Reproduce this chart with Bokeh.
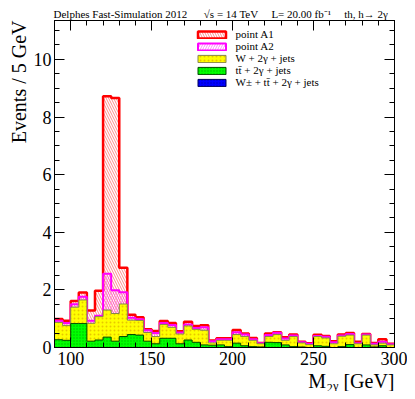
import numpy as np
from bokeh.plotting import figure
from bokeh.models import Range1d, FixedTicker, LinearAxis, Legend, LegendItem, Title
from bokeh.embed import file_html
from bokeh.resources import INLINE

# ---- data (events per 5 GeV bin, contributions of each sample) ----
bin_edges = list(range(90, 305, 5))  # 90 ... 300

w_tt_2g = [0.0] * 42
tt_2g = [0.27, 0.25, 0.83, 0.83, 0.22, 0.26, 0.36, 0.22, 0.38, 0.45, 0.43, 0.22,
         0.13, 0.32, 0.32, 0.13, 0.26, 0.18, 0.09, 0.08, 0.09, 0.03, 0.15, 0.06,
         0.03, 0.02, 0.18, 0.17, 0.09, 0.03, 0.02, 0.00, 0.06, 0.04, 0.00, 0.03,
         0.10, 0.00, 0.09, 0.02, 0.06, 0.00]
w_2g = [0.60, 0.51, 0.57, 0.82, 0.62, 0.81, 0.94, 0.96, 1.13, 0.50, 0.51, 0.30,
        0.25, 0.48, 0.38, 0.34, 0.49, 0.45, 0.51, 0.08, 0.16, 0.22, 0.30, 0.32,
        0.22, 0.11, 0.20, 0.28, 0.16, 0.35, 0.14, 0.10, 0.32, 0.29, 0.13, 0.36,
        0.33, 0.13, 0.34, 0.07, 0.09, 0.09]
point_a2 = [0.06, 0.09, 0.10, 0.11, 0.09, 0.03, 1.26, 0.81, 0.41, 0.08, 0.04, 0.08,
            0.12, 0.05, 0.08, 0.05, 0.05, 0.05, 0.10, 0.06, 0.04, 0.04, 0.08, 0.07,
            0.04, 0.02, 0.05, 0.06, 0.06, 0.04, 0.02, 0.03, 0.02, 0.04, 0.05, 0.03,
            0.04, 0.02, 0.02, 0.04, 0.05, 0.02]
point_a1 = [0.06, 0.08, 0.11, 0.15, 0.35, 0.87, 6.16, 6.67, 0.85, 0.11, 0.07, 0.03,
            0.07, 0.07, 0.07, 0.04, 0.09, 0.07, 0.07, 0.02, 0.03, 0.03, 0.08, 0.04,
            0.04, 0.01, 0.06, 0.02, 0.05, 0.03, 0.02, 0.02, 0.04, 0.03, 0.04, 0.03,
            0.03, 0.05, 0.02, 0.03, 0.09, 0.02]

labels = ["point A1", "point A2", "W + 2\u03b3 + jets", "tt\u0304 + 2\u03b3 + jets",
          "W\u00b1 + tt\u0304 + 2\u03b3 + jets"]
x_ticks = [100, 150, 200, 250, 300]
x_minor = list(range(90, 301, 10))
y_ticks = [0, 2, 4, 6, 8, 10]
y_minor = [0.5 * k for k in range(0, 23)]
header = ("Delphes Fast-Simulation 2012\u2003\u2002\u221as = 14 TeV\u2003\u2009"
          "L= 20.00 fb\u207b\u00b9\u2003\u2009th, h\u2192 2\u03b3")
y_title = "Events / 5 GeV"
x_title = "M\u2082\u1d67 [GeV]"

FONT = "Liberation Serif"

# cumulative stacks
s_blue = np.array(w_tt_2g)
s_green = s_blue + np.array(tt_2g)
s_yellow = s_green + np.array(w_2g)
s_mag = s_yellow + np.array(point_a2)
s_red = s_mag + np.array(point_a1)


def step_poly(edges, tops):
    xs, ys = [edges[0]], [0.0]
    for i, t in enumerate(tops):
        xs += [edges[i], edges[i + 1]]
        ys += [float(t), float(t)]
    xs.append(edges[-1]); ys.append(0.0)
    return xs, ys


p = figure(width=407, height=391, output_backend="svg", toolbar_location=None,
           x_range=Range1d(90, 300), y_range=Range1d(0, 11.35),
           min_border_left=54, min_border_right=13, min_border_top=20,
           min_border_bottom=44)
p.xgrid.visible = False
p.ygrid.visible = False
p.outline_line_color = "black"
p.outline_line_width = 1
p.background_fill_color = "white"

styles = [
    dict(fill_alpha=0.0, hatch_pattern="\\", hatch_color="#ff0000", hatch_alpha=0.45,
         hatch_scale=5, hatch_weight=1, line_color="#ff0000", line_width=2.5),
    dict(fill_alpha=0.0, hatch_pattern="/", hatch_color="#ff00ff", hatch_alpha=0.45,
         hatch_scale=5, hatch_weight=1, line_color="#ff00ff", line_width=2),
    dict(fill_color="#ffff00", fill_alpha=1.0, hatch_pattern=".", hatch_color="#d09000",
         hatch_alpha=0.5, hatch_scale=4, hatch_weight=0.6, line_color="#85854a", line_width=1),
    dict(fill_color="#00ff00", fill_alpha=1.0, hatch_pattern=".", hatch_color="#00a000",
         hatch_alpha=0.7, hatch_scale=3, hatch_weight=0.6, line_color="#004a00", line_width=1),
    dict(fill_color="#0000ff", fill_alpha=1.0, hatch_pattern=".", hatch_color="#000090",
         hatch_alpha=0.7, hatch_scale=3, hatch_weight=0.6, line_color="#000060", line_width=1),
]
stacks = [s_red, s_mag, s_yellow, s_green, s_blue]
renderers = []
for st, sty in zip(stacks, styles):
    xs, ys = step_poly(bin_edges, st)
    renderers.append(p.patch(xs, ys, **sty))

# axes styling
for ax in (p.xaxis[0], p.yaxis[0]):
    ax.major_tick_in = 10
    ax.major_tick_out = 0
    ax.minor_tick_in = 5
    ax.minor_tick_out = 0
    ax.axis_line_color = "black"
    ax.major_tick_line_color = "black"
    ax.minor_tick_line_color = "black"
    ax.major_label_text_font = FONT
    ax.major_label_text_font_size = "18px"
    ax.major_label_text_color = "black"

p.xaxis[0].ticker = FixedTicker(ticks=x_ticks, minor_ticks=x_minor)
p.yaxis[0].ticker = FixedTicker(ticks=y_ticks, minor_ticks=y_minor)
p.xaxis[0].major_label_standoff = 4
p.yaxis[0].major_label_standoff = 3

# mirrored tick marks (no labels): ticks drawn as "minor" ticks only
for place, majors, minors in (("above", x_ticks, x_minor), ("right", y_ticks, y_minor)):
    for pos, length in ((minors, 5), (majors, 10)):
        ax = LinearAxis(ticker=FixedTicker(ticks=[], minor_ticks=pos))
        ax.major_tick_in = 0
        ax.major_tick_out = 0
        ax.minor_tick_in = length
        ax.minor_tick_out = 0
        ax.axis_line_color = "black"
        ax.minor_tick_line_color = "black"
        p.add_layout(ax, place)

# legend
items = [LegendItem(label=l, renderers=[r]) for l, r in zip(labels, renderers)]
legend = Legend(items=items, location=(139.5, 259), glyph_width=35, glyph_height=9,
                label_height=9, spacing=0, padding=0, margin=0, label_standoff=7,
                border_line_color=None, background_fill_alpha=0.0,
                label_text_font=FONT, label_text_font_size="11px",
                label_text_color="black")
p.add_layout(legend)

# header and axis titles
p.add_layout(Title(text=header, align="left", text_font=FONT, text_font_size="11px",
                   text_font_style="normal", text_color="black", standoff=2, offset=-1),
             "above")
p.add_layout(Title(text=y_title, align="right", text_font=FONT, text_font_size="20px",
                   text_font_style="normal", text_color="black", standoff=2), "left")
p.add_layout(Title(text=x_title, align="right", text_font=FONT, text_font_size="20px",
                   text_font_style="normal", text_color="black", standoff=0), "below")

open("out.html", "w").write(file_html(p, INLINE))
